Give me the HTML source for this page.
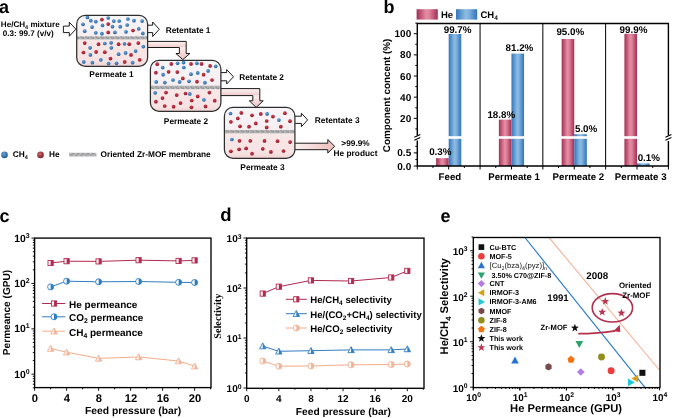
<!DOCTYPE html>
<html><head><meta charset="utf-8"><style>
html,body{margin:0;padding:0;background:#fff;}
body{width:685px;height:418px;overflow:hidden;}
svg{display:block;text-rendering:geometricPrecision;will-change:transform;}
</style></head><body>
<svg width="685" height="418" viewBox="0 0 685 418">
<rect width="685" height="418" fill="#fff"/>

<defs>
<linearGradient id="gHe" x1="0" x2="1" y1="0" y2="0">
 <stop offset="0" stop-color="#a33157"/><stop offset="0.12" stop-color="#b5476b"/>
 <stop offset="0.45" stop-color="#e48da3"/><stop offset="0.6" stop-color="#dd8299"/>
 <stop offset="0.88" stop-color="#b4466a"/><stop offset="1" stop-color="#a33157"/>
</linearGradient>
<linearGradient id="gCH" x1="0" x2="1" y1="0" y2="0">
 <stop offset="0" stop-color="#3576bb"/><stop offset="0.12" stop-color="#4a88c6"/>
 <stop offset="0.45" stop-color="#8cbbe2"/><stop offset="0.6" stop-color="#82b3dd"/>
 <stop offset="0.88" stop-color="#4786c5"/><stop offset="1" stop-color="#3576bb"/>
</linearGradient>
<linearGradient id="gUp" x1="0" x2="0" y1="0" y2="1">
 <stop offset="0" stop-color="#f6f5f8"/><stop offset="1" stop-color="#f6eef0"/>
</linearGradient>
<linearGradient id="gLo" x1="0" x2="0" y1="0" y2="1">
 <stop offset="0" stop-color="#f8e8e8"/><stop offset="0.8" stop-color="#f6e2e2"/><stop offset="1" stop-color="#f0d2d3"/>
</linearGradient>
<linearGradient id="gArrH" x1="0" x2="0" y1="0" y2="1">
 <stop offset="0" stop-color="#fdf5f5"/><stop offset="1" stop-color="#f0caca"/>
</linearGradient>
<linearGradient id="gArrV" x1="0" x2="0" y1="0" y2="1">
 <stop offset="0" stop-color="#faeded"/><stop offset="1" stop-color="#efc2c2"/>
</linearGradient>
<linearGradient id="gArrF" x1="0" x2="1" y1="0" y2="0">
 <stop offset="0" stop-color="#fbf2f2"/><stop offset="1" stop-color="#eebcbc"/>
</linearGradient>
<radialGradient id="dB" cx="0.4" cy="0.35" r="0.65">
 <stop offset="0" stop-color="#6aa6dc"/><stop offset="1" stop-color="#1f5f9e"/>
</radialGradient>
<radialGradient id="dR" cx="0.4" cy="0.35" r="0.65">
 <stop offset="0" stop-color="#d8414f"/><stop offset="1" stop-color="#8e1022"/>
</radialGradient>
<radialGradient id="dBL" cx="0.4" cy="0.35" r="0.65">
 <stop offset="0" stop-color="#66a3d8"/><stop offset="1" stop-color="#24598c"/>
</radialGradient>
<radialGradient id="dRL" cx="0.4" cy="0.35" r="0.65">
 <stop offset="0" stop-color="#d26868"/><stop offset="1" stop-color="#7c2027"/>
</radialGradient>
<pattern id="mem" width="5" height="3.6" patternUnits="userSpaceOnUse">
 <rect width="5" height="3.6" fill="#bebec0"/>
 <path d="M0.4 0.9 Q1.3 0.1 1.7 1.3 T2.6 2.7" stroke="#58585a" stroke-width="0.65" fill="none"/>
 <path d="M3.0 0.7 L4.1 1.7 L3.3 2.9" stroke="#6a6a6c" stroke-width="0.6" fill="none"/>
 <path d="M0 3.2 L5 3.2" stroke="#9a9a9c" stroke-width="0.5"/>
 <path d="M4.4 0.4 L4.9 0.4 M0.8 2.4 L1.2 2.4" stroke="#f0f0f0" stroke-width="0.5"/>
</pattern>
</defs>
<text transform="translate(-1 12.8) scale(1 1.0)" font-size="18" font-weight="bold" text-anchor="start" fill="#000" font-family='"Liberation Sans", sans-serif' >a</text>
<rect x="147.5" y="41.4" width="38.69999999999999" height="6.100000000000001" fill="url(#gArrH)"/>
<path d="M179.4 47.5 L179.4 53.5 L175.9 53.5 L182.8 59.6 L189.9 53.5 L186.2 53.5 L186.2 47.5 Z" fill="url(#gArrV)"/>
<path d="M147.5 41.4 L186.2 41.4 L186.2 53.5 L189.9 53.5 L182.8 59.6 L175.9 53.5 L179.4 53.5 L179.4 47.5 L147.5 47.5" fill="none" stroke="#1a1a1a" stroke-width="1.0" stroke-linejoin="miter"/>
<rect x="220.5" y="88.6" width="39.30000000000001" height="7.0" fill="url(#gArrH)"/>
<path d="M252.8 95.6 L252.8 100.8 L249.3 100.8 L256.2 107.4 L263.2 100.8 L259.8 100.8 L259.8 95.6 Z" fill="url(#gArrV)"/>
<path d="M220.5 88.6 L259.8 88.6 L259.8 100.8 L263.2 100.8 L256.2 107.4 L249.3 100.8 L252.8 100.8 L252.8 95.6 L220.5 95.6" fill="none" stroke="#1a1a1a" stroke-width="1.0" stroke-linejoin="miter"/>
<path d="M63.4 26.1 L69.3 26.1 L69.3 22.2 L75.9 29.2 L69.3 36.2 L69.3 32.6 L63.4 32.6 Z" fill="#fff" stroke="#1a1a1a" stroke-width="1.0"/>
<path d="M147.5 25.2 L152.7 25.2 L152.7 22.0 L159.3 29.25 L152.7 36.5 L152.7 32.6 L147.5 32.6" fill="#fff" stroke="#1a1a1a" stroke-width="1.0" stroke-linejoin="miter"/>
<path d="M220.5 72.6 L226.7 72.6 L226.7 69.6 L233.5 76.8 L226.7 84.0 L226.7 80.8 L220.5 80.8" fill="#fff" stroke="#1a1a1a" stroke-width="1.0" stroke-linejoin="miter"/>
<path d="M294.7 116.2 L301.4 116.2 L301.4 113.2 L307.6 119.95 L301.4 126.7 L301.4 123.4 L294.7 123.4" fill="#fff" stroke="#1a1a1a" stroke-width="1.0" stroke-linejoin="miter"/>
<path d="M294.7 143.2 L327.8 143.2 L327.8 139.5 L334.7 146.3 L327.8 153 L327.8 149.7 L294.7 149.7" fill="url(#gArrF)" stroke="#1a1a1a" stroke-width="1.0"/>
<clipPath id="cb76"><rect x="76.7" y="15.4" width="70.89999999999999" height="50.9" rx="8.5" ry="8.5"/></clipPath>
<g clip-path="url(#cb76)">
<rect x="76.7" y="15.4" width="70.89999999999999" height="20.800000000000004" fill="url(#gUp)"/>
<rect x="76.7" y="39.5" width="70.89999999999999" height="26.799999999999997" fill="url(#gLo)"/>
<rect x="76.7" y="36.2" width="70.89999999999999" height="3.299999999999997" fill="url(#mem)"/>
<circle cx="87.4" cy="17.4" r="1.85" fill="url(#dB)"/>
<circle cx="90.8" cy="20.7" r="1.85" fill="url(#dB)"/>
<circle cx="95.8" cy="21.6" r="1.85" fill="url(#dB)"/>
<circle cx="108.2" cy="18" r="1.85" fill="url(#dB)"/>
<circle cx="113.8" cy="21.1" r="1.85" fill="url(#dB)"/>
<circle cx="119.2" cy="21" r="1.85" fill="url(#dB)"/>
<circle cx="127.9" cy="19" r="1.85" fill="url(#dB)"/>
<circle cx="134" cy="20.7" r="1.85" fill="url(#dB)"/>
<circle cx="142.1" cy="21.1" r="1.85" fill="url(#dB)"/>
<circle cx="83" cy="24.3" r="1.85" fill="url(#dB)"/>
<circle cx="92.1" cy="27.1" r="1.85" fill="url(#dB)"/>
<circle cx="102.5" cy="25.4" r="1.85" fill="url(#dB)"/>
<circle cx="112.5" cy="26.7" r="1.85" fill="url(#dB)"/>
<circle cx="120.2" cy="26.7" r="1.85" fill="url(#dB)"/>
<circle cx="127.2" cy="25" r="1.85" fill="url(#dB)"/>
<circle cx="138.7" cy="28.8" r="1.85" fill="url(#dB)"/>
<circle cx="84.7" cy="31.2" r="1.85" fill="url(#dB)"/>
<circle cx="95.8" cy="32.8" r="1.85" fill="url(#dB)"/>
<circle cx="101.9" cy="33.7" r="1.85" fill="url(#dB)"/>
<circle cx="114.9" cy="32.4" r="1.85" fill="url(#dB)"/>
<circle cx="126" cy="31.8" r="1.85" fill="url(#dB)"/>
<circle cx="142.8" cy="33.4" r="1.85" fill="url(#dB)"/>
<circle cx="101.9" cy="19.6" r="1.85" fill="url(#dR)"/>
<circle cx="108.2" cy="24.1" r="1.85" fill="url(#dR)"/>
<circle cx="108.2" cy="32.4" r="1.85" fill="url(#dR)"/>
<circle cx="133" cy="30.5" r="1.85" fill="url(#dR)"/>
<circle cx="84.7" cy="43.1" r="1.85" fill="url(#dR)"/>
<circle cx="98.5" cy="44.2" r="1.85" fill="url(#dR)"/>
<circle cx="118.6" cy="44.2" r="1.85" fill="url(#dR)"/>
<circle cx="129.2" cy="44.2" r="1.85" fill="url(#dR)"/>
<circle cx="138.3" cy="43.1" r="1.85" fill="url(#dR)"/>
<circle cx="83.4" cy="52.5" r="1.85" fill="url(#dR)"/>
<circle cx="96.1" cy="51.9" r="1.85" fill="url(#dR)"/>
<circle cx="104.8" cy="52.2" r="1.85" fill="url(#dR)"/>
<circle cx="131" cy="54.9" r="1.85" fill="url(#dR)"/>
<circle cx="110.5" cy="58.6" r="1.85" fill="url(#dR)"/>
<circle cx="124.7" cy="61.9" r="1.85" fill="url(#dR)"/>
<circle cx="139.7" cy="59.8" r="1.85" fill="url(#dR)"/>
<circle cx="104.8" cy="43.5" r="1.85" fill="url(#dB)"/>
<circle cx="111.1" cy="42.8" r="1.85" fill="url(#dB)"/>
<circle cx="124.5" cy="43.8" r="1.85" fill="url(#dB)"/>
<circle cx="90.1" cy="47.8" r="1.85" fill="url(#dB)"/>
<circle cx="111.3" cy="47.8" r="1.85" fill="url(#dB)"/>
<circle cx="143.3" cy="46.6" r="1.85" fill="url(#dB)"/>
<circle cx="90.4" cy="54.9" r="1.85" fill="url(#dB)"/>
<circle cx="118.6" cy="54.2" r="1.85" fill="url(#dB)"/>
<circle cx="125.6" cy="52.9" r="1.85" fill="url(#dB)"/>
<circle cx="135.6" cy="51.1" r="1.85" fill="url(#dB)"/>
<circle cx="83.8" cy="61.9" r="1.85" fill="url(#dB)"/>
<circle cx="92.4" cy="62.7" r="1.85" fill="url(#dB)"/>
<circle cx="100.8" cy="59.8" r="1.85" fill="url(#dB)"/>
<circle cx="108.6" cy="63.6" r="1.85" fill="url(#dB)"/>
<circle cx="116.5" cy="63.3" r="1.85" fill="url(#dB)"/>
<circle cx="132.6" cy="62.7" r="1.85" fill="url(#dB)"/>
</g>
<rect x="76.7" y="15.4" width="70.89999999999999" height="50.9" rx="8.5" ry="8.5" fill="none" stroke="#2e2e2e" stroke-width="1.25"/>
<clipPath id="cb150"><rect x="150.4" y="60.4" width="70.5" height="50.9" rx="8.5" ry="8.5"/></clipPath>
<g clip-path="url(#cb150)">
<rect x="150.4" y="60.4" width="70.5" height="25.300000000000004" fill="url(#gUp)"/>
<rect x="150.4" y="89.2" width="70.5" height="22.099999999999994" fill="url(#gLo)"/>
<rect x="150.4" y="85.7" width="70.5" height="3.5" fill="url(#mem)"/>
<circle cx="157.2" cy="64.2" r="1.85" fill="url(#dR)"/>
<circle cx="171.3" cy="63.9" r="1.85" fill="url(#dR)"/>
<circle cx="191" cy="63.9" r="1.85" fill="url(#dR)"/>
<circle cx="201.5" cy="63.9" r="1.85" fill="url(#dR)"/>
<circle cx="210.1" cy="65.9" r="1.85" fill="url(#dR)"/>
<circle cx="155.9" cy="72.7" r="1.85" fill="url(#dR)"/>
<circle cx="168.6" cy="71.8" r="1.85" fill="url(#dR)"/>
<circle cx="177.3" cy="72.1" r="1.85" fill="url(#dR)"/>
<circle cx="203.6" cy="74.7" r="1.85" fill="url(#dR)"/>
<circle cx="182.8" cy="78.4" r="1.85" fill="url(#dR)"/>
<circle cx="197" cy="81.7" r="1.85" fill="url(#dR)"/>
<circle cx="212" cy="80" r="1.85" fill="url(#dR)"/>
<circle cx="177.6" cy="63.3" r="1.85" fill="url(#dB)"/>
<circle cx="183.5" cy="62.6" r="1.85" fill="url(#dB)"/>
<circle cx="196.9" cy="63.3" r="1.85" fill="url(#dB)"/>
<circle cx="215.7" cy="66.3" r="1.85" fill="url(#dB)"/>
<circle cx="162.7" cy="67.6" r="1.85" fill="url(#dB)"/>
<circle cx="183.8" cy="67.5" r="1.85" fill="url(#dB)"/>
<circle cx="163.1" cy="74.7" r="1.85" fill="url(#dB)"/>
<circle cx="191" cy="74.2" r="1.85" fill="url(#dB)"/>
<circle cx="197.7" cy="72.9" r="1.85" fill="url(#dB)"/>
<circle cx="208.1" cy="70.9" r="1.85" fill="url(#dB)"/>
<circle cx="156.2" cy="81.9" r="1.85" fill="url(#dB)"/>
<circle cx="164.8" cy="82.6" r="1.85" fill="url(#dB)"/>
<circle cx="173" cy="80" r="1.85" fill="url(#dB)"/>
<circle cx="179.6" cy="81.9" r="1.85" fill="url(#dB)"/>
<circle cx="189" cy="81.3" r="1.85" fill="url(#dB)"/>
<circle cx="204.9" cy="82.7" r="1.85" fill="url(#dB)"/>
<circle cx="166" cy="92.6" r="1.85" fill="url(#dR)"/>
<circle cx="185.5" cy="93.5" r="1.85" fill="url(#dR)"/>
<circle cx="209.4" cy="92.6" r="1.85" fill="url(#dR)"/>
<circle cx="162.5" cy="98.1" r="1.85" fill="url(#dR)"/>
<circle cx="176.7" cy="95.1" r="1.85" fill="url(#dR)"/>
<circle cx="197.7" cy="96.4" r="1.85" fill="url(#dR)"/>
<circle cx="155.9" cy="101.7" r="1.85" fill="url(#dR)"/>
<circle cx="191.7" cy="100.5" r="1.85" fill="url(#dR)"/>
<circle cx="214.7" cy="100.7" r="1.85" fill="url(#dR)"/>
<circle cx="180.5" cy="103.1" r="1.85" fill="url(#dR)"/>
<circle cx="164.7" cy="106" r="1.85" fill="url(#dR)"/>
<circle cx="173.6" cy="106.7" r="1.85" fill="url(#dR)"/>
<circle cx="191.4" cy="107.3" r="1.85" fill="url(#dR)"/>
<circle cx="205.5" cy="106.4" r="1.85" fill="url(#dR)"/>
<circle cx="155.2" cy="92.8" r="1.85" fill="url(#dB)"/>
<circle cx="189.8" cy="93.9" r="1.85" fill="url(#dB)"/>
<circle cx="203.9" cy="99.8" r="1.85" fill="url(#dB)"/>
</g>
<rect x="150.4" y="60.4" width="70.5" height="50.9" rx="8.5" ry="8.5" fill="none" stroke="#2e2e2e" stroke-width="1.25"/>
<clipPath id="cb224"><rect x="224.4" y="107.4" width="70.49999999999997" height="50.900000000000006" rx="8.5" ry="8.5"/></clipPath>
<g clip-path="url(#cb224)">
<rect x="224.4" y="107.4" width="70.49999999999997" height="22.599999999999994" fill="url(#gUp)"/>
<rect x="224.4" y="133.4" width="70.49999999999997" height="24.900000000000006" fill="url(#gLo)"/>
<rect x="224.4" y="130.0" width="70.49999999999997" height="3.4000000000000057" fill="url(#mem)"/>
<circle cx="230.5" cy="113.5" r="1.85" fill="url(#dB)"/>
<circle cx="267.1" cy="113.9" r="1.85" fill="url(#dB)"/>
<circle cx="278.9" cy="120.1" r="1.85" fill="url(#dB)"/>
<circle cx="241.3" cy="112.9" r="1.85" fill="url(#dR)"/>
<circle cx="252" cy="115.3" r="1.85" fill="url(#dR)"/>
<circle cx="260.8" cy="113.9" r="1.85" fill="url(#dR)"/>
<circle cx="284.9" cy="113.2" r="1.85" fill="url(#dR)"/>
<circle cx="237.8" cy="118.4" r="1.85" fill="url(#dR)"/>
<circle cx="272.9" cy="116.6" r="1.85" fill="url(#dR)"/>
<circle cx="230.9" cy="121.8" r="1.85" fill="url(#dR)"/>
<circle cx="266.7" cy="121" r="1.85" fill="url(#dR)"/>
<circle cx="290" cy="121.2" r="1.85" fill="url(#dR)"/>
<circle cx="255.8" cy="123.4" r="1.85" fill="url(#dR)"/>
<circle cx="240" cy="126.3" r="1.85" fill="url(#dR)"/>
<circle cx="249" cy="126.7" r="1.85" fill="url(#dR)"/>
<circle cx="266.7" cy="127.4" r="1.85" fill="url(#dR)"/>
<circle cx="280.8" cy="126.7" r="1.85" fill="url(#dR)"/>
<circle cx="231.9" cy="139.5" r="1.85" fill="url(#dB)"/>
<circle cx="239.5" cy="140.8" r="1.85" fill="url(#dR)"/>
<circle cx="250.3" cy="140.8" r="1.85" fill="url(#dR)"/>
<circle cx="264.5" cy="140.9" r="1.85" fill="url(#dR)"/>
<circle cx="277.5" cy="141.2" r="1.85" fill="url(#dR)"/>
<circle cx="290.1" cy="142.1" r="1.85" fill="url(#dR)"/>
<circle cx="230.9" cy="151.3" r="1.85" fill="url(#dR)"/>
<circle cx="239.1" cy="149.3" r="1.85" fill="url(#dR)"/>
<circle cx="246.1" cy="148.4" r="1.85" fill="url(#dR)"/>
<circle cx="262.8" cy="148.8" r="1.85" fill="url(#dR)"/>
<circle cx="252" cy="153.7" r="1.85" fill="url(#dR)"/>
<circle cx="270.9" cy="151.9" r="1.85" fill="url(#dR)"/>
<circle cx="283.5" cy="151" r="1.85" fill="url(#dR)"/>
</g>
<rect x="224.4" y="107.4" width="70.49999999999997" height="50.900000000000006" rx="8.5" ry="8.5" fill="none" stroke="#2e2e2e" stroke-width="1.25"/>
<text transform="translate(0.8 27.2) scale(1 1.0)" font-size="8.1" font-weight="bold" text-anchor="start" fill="#000" font-family='"Liberation Sans", sans-serif' >He/CH<tspan font-size="5.5" dy="1.8">4</tspan><tspan dy="-1.8"> mixture</tspan></text>
<text transform="translate(2.8 36.2) scale(1 1.0)" font-size="8.1" font-weight="bold" text-anchor="start" fill="#000" font-family='"Liberation Sans", sans-serif' >0.3: 99.7 (v/v)</text>
<text transform="translate(165.7 32.9) scale(1 1.0)" font-size="8.3" font-weight="bold" text-anchor="start" fill="#000" font-family='"Liberation Sans", sans-serif' >Retentate 1</text>
<text transform="translate(239.2 79.9) scale(1 1.0)" font-size="8.3" font-weight="bold" text-anchor="start" fill="#000" font-family='"Liberation Sans", sans-serif' >Retentate 2</text>
<text transform="translate(314.8 123.2) scale(1 1.0)" font-size="8.3" font-weight="bold" text-anchor="start" fill="#000" font-family='"Liberation Sans", sans-serif' >Retentate 3</text>
<text transform="translate(111.5 76.6) scale(1 1.0)" font-size="8.3" font-weight="bold" text-anchor="middle" fill="#000" font-family='"Liberation Sans", sans-serif' >Permeate 1</text>
<text transform="translate(186 123.6) scale(1 1.0)" font-size="8.3" font-weight="bold" text-anchor="middle" fill="#000" font-family='"Liberation Sans", sans-serif' >Permeate 2</text>
<text transform="translate(262.5 170.3) scale(1 1.0)" font-size="8.3" font-weight="bold" text-anchor="middle" fill="#000" font-family='"Liberation Sans", sans-serif' >Permeate 3</text>
<text transform="translate(355.5 146.2) scale(1 1.0)" font-size="8.3" font-weight="bold" text-anchor="middle" fill="#000" font-family='"Liberation Sans", sans-serif' >&gt;99.9%</text>
<text transform="translate(355.5 156.3) scale(1 1.0)" font-size="8.3" font-weight="bold" text-anchor="middle" fill="#000" font-family='"Liberation Sans", sans-serif' >He product</text>
<circle cx="4.5" cy="154.9" r="3.3" fill="url(#dBL)"/>
<text transform="translate(12.8 157.4) scale(1 1.0)" font-size="8.3" font-weight="bold" text-anchor="start" fill="#000" font-family='"Liberation Sans", sans-serif' >CH<tspan font-size="5.5" dy="1.8">4</tspan></text>
<circle cx="40.5" cy="154.9" r="3.3" fill="url(#dRL)"/>
<text transform="translate(49 157.4) scale(1 1.0)" font-size="8.3" font-weight="bold" text-anchor="start" fill="#000" font-family='"Liberation Sans", sans-serif' >He</text>
<rect x="69" y="152.8" width="27.4" height="3.6" fill="url(#mem)"/>
<text transform="translate(100.5 157.4) scale(1 1.0)" font-size="8.3" font-weight="bold" text-anchor="start" fill="#000" font-family='"Liberation Sans", sans-serif' >Oriented Zr-MOF membrane</text>
<text transform="translate(383.5 12.8) scale(1 1.0)" font-size="18" font-weight="bold" text-anchor="start" fill="#000" font-family='"Liberation Sans", sans-serif' >b</text>
<rect x="416.6" y="9.2" width="21.2" height="10.4" fill="url(#gHe)"/>
<text transform="translate(441 18.2) scale(1 1.0)" font-size="9.5" font-weight="bold" text-anchor="start" fill="#000" font-family='"Liberation Sans", sans-serif' >He</text>
<rect x="456" y="9.2" width="21.2" height="10.4" fill="url(#gCH)"/>
<text transform="translate(480.5 18.2) scale(1 1.0)" font-size="9.5" font-weight="bold" text-anchor="start" fill="#000" font-family='"Liberation Sans", sans-serif' >CH<tspan font-size="6.5" dy="2">4</tspan></text>
<rect x="436.09" y="158.14" width="12.6" height="7.86" fill="url(#gHe)"/>
<rect x="448.69" y="34.02" width="12.6" height="131.98" fill="url(#gCH)"/>
<rect x="498.86" y="119.61" width="12.6" height="46.39" fill="url(#gHe)"/>
<rect x="511.46" y="53.59" width="12.6" height="112.41" fill="url(#gCH)"/>
<rect x="561.64" y="38.99" width="12.6" height="127.01" fill="url(#gHe)"/>
<rect x="574.24" y="134.21" width="12.6" height="31.79" fill="url(#gCH)"/>
<rect x="624.41" y="33.81" width="12.6" height="132.19" fill="url(#gHe)"/>
<rect x="637.01" y="163.38" width="12.6" height="2.62" fill="url(#gCH)"/>
<rect x="418.3" y="136.2" width="249.09999999999997" height="2.6" fill="#fff"/>
<line x1="480.07" y1="23.5" x2="480.07" y2="166.0" stroke="#000" stroke-width="1"/>
<line x1="542.85" y1="23.5" x2="542.85" y2="166.0" stroke="#000" stroke-width="1"/>
<line x1="605.62" y1="23.5" x2="605.62" y2="166.0" stroke="#000" stroke-width="1"/>
<path d="M416.7 23.5 L669.0 23.5" stroke="#000" stroke-width="1.3"/>
<path d="M417.3 23.5 L417.3 135.5 M417.3 140.5 L417.3 166.0 L668.4 166.0 L668.4 141 M668.4 135.5 L668.4 23.5" stroke="#000" stroke-width="1.4" fill="none"/>
<path d="M414.3 137.2 L420.3 134.6 M414.3 140.2 L420.3 137.6" stroke="#000" stroke-width="1.1"/>
<path d="M417.3 136.6 L417.3 138.8" stroke="#fff" stroke-width="0"/>
<path d="M665.4 137.2 L671.4 134.6 M665.4 140.2 L671.4 137.6" stroke="#000" stroke-width="1.1"/>
<path d="M668.4 136.6 L668.4 138.8" stroke="#fff" stroke-width="0"/>
<line x1="415.3" y1="128.92" x2="417.3" y2="128.92" stroke="#000" stroke-width="1"/>
<line x1="413.8" y1="118.34" x2="417.3" y2="118.34" stroke="#000" stroke-width="1"/>
<text transform="translate(411.2 121.84) scale(1 1.0)" font-size="10" font-weight="bold" text-anchor="end" fill="#000" font-family='"Liberation Sans", sans-serif' >20</text>
<line x1="415.3" y1="107.76" x2="417.3" y2="107.76" stroke="#000" stroke-width="1"/>
<line x1="413.8" y1="97.18" x2="417.3" y2="97.18" stroke="#000" stroke-width="1"/>
<text transform="translate(411.2 100.68) scale(1 1.0)" font-size="10" font-weight="bold" text-anchor="end" fill="#000" font-family='"Liberation Sans", sans-serif' >40</text>
<line x1="415.3" y1="86.60" x2="417.3" y2="86.60" stroke="#000" stroke-width="1"/>
<line x1="413.8" y1="76.02" x2="417.3" y2="76.02" stroke="#000" stroke-width="1"/>
<text transform="translate(411.2 79.52) scale(1 1.0)" font-size="10" font-weight="bold" text-anchor="end" fill="#000" font-family='"Liberation Sans", sans-serif' >60</text>
<line x1="415.3" y1="65.44" x2="417.3" y2="65.44" stroke="#000" stroke-width="1"/>
<line x1="413.8" y1="54.86" x2="417.3" y2="54.86" stroke="#000" stroke-width="1"/>
<text transform="translate(411.2 58.36) scale(1 1.0)" font-size="10" font-weight="bold" text-anchor="end" fill="#000" font-family='"Liberation Sans", sans-serif' >80</text>
<line x1="415.3" y1="44.28" x2="417.3" y2="44.28" stroke="#000" stroke-width="1"/>
<line x1="413.8" y1="33.70" x2="417.3" y2="33.70" stroke="#000" stroke-width="1"/>
<text transform="translate(411.2 37.19999999999999) scale(1 1.0)" font-size="10" font-weight="bold" text-anchor="end" fill="#000" font-family='"Liberation Sans", sans-serif' >100</text>
<line x1="415.3" y1="23.12" x2="417.3" y2="23.12" stroke="#000" stroke-width="1"/>
<line x1="413.8" y1="166.00" x2="417.3" y2="166.00" stroke="#000" stroke-width="1"/>
<text transform="translate(411.2 169.5) scale(1 1.0)" font-size="10" font-weight="bold" text-anchor="end" fill="#000" font-family='"Liberation Sans", sans-serif' >0.0</text>
<line x1="415.3" y1="159.45" x2="417.3" y2="159.45" stroke="#000" stroke-width="1"/>
<line x1="413.8" y1="152.90" x2="417.3" y2="152.90" stroke="#000" stroke-width="1"/>
<text transform="translate(411.2 156.4) scale(1 1.0)" font-size="10" font-weight="bold" text-anchor="end" fill="#000" font-family='"Liberation Sans", sans-serif' >0.5</text>
<line x1="415.3" y1="146.35" x2="417.3" y2="146.35" stroke="#000" stroke-width="1"/>
<line x1="417.30" y1="166.0" x2="417.30" y2="169.5" stroke="#000" stroke-width="1"/>
<line x1="432.99" y1="166.0" x2="432.99" y2="168.0" stroke="#000" stroke-width="1"/>
<line x1="448.69" y1="166.0" x2="448.69" y2="169.5" stroke="#000" stroke-width="1"/>
<line x1="464.38" y1="166.0" x2="464.38" y2="168.0" stroke="#000" stroke-width="1"/>
<line x1="480.07" y1="166.0" x2="480.07" y2="169.5" stroke="#000" stroke-width="1"/>
<line x1="495.77" y1="166.0" x2="495.77" y2="168.0" stroke="#000" stroke-width="1"/>
<line x1="511.46" y1="166.0" x2="511.46" y2="169.5" stroke="#000" stroke-width="1"/>
<line x1="527.16" y1="166.0" x2="527.16" y2="168.0" stroke="#000" stroke-width="1"/>
<line x1="542.85" y1="166.0" x2="542.85" y2="169.5" stroke="#000" stroke-width="1"/>
<line x1="558.54" y1="166.0" x2="558.54" y2="168.0" stroke="#000" stroke-width="1"/>
<line x1="574.24" y1="166.0" x2="574.24" y2="169.5" stroke="#000" stroke-width="1"/>
<line x1="589.93" y1="166.0" x2="589.93" y2="168.0" stroke="#000" stroke-width="1"/>
<line x1="605.62" y1="166.0" x2="605.62" y2="169.5" stroke="#000" stroke-width="1"/>
<line x1="621.32" y1="166.0" x2="621.32" y2="168.0" stroke="#000" stroke-width="1"/>
<line x1="637.01" y1="166.0" x2="637.01" y2="169.5" stroke="#000" stroke-width="1"/>
<line x1="652.71" y1="166.0" x2="652.71" y2="168.0" stroke="#000" stroke-width="1"/>
<line x1="668.40" y1="166.0" x2="668.40" y2="169.5" stroke="#000" stroke-width="1"/>
<text transform="translate(449.9 180.3) scale(1 1.0)" font-size="9.7" font-weight="bold" text-anchor="middle" fill="#000" font-family='"Liberation Sans", sans-serif' >Feed</text>
<text transform="translate(514.1 180.3) scale(1 1.0)" font-size="9.7" font-weight="bold" text-anchor="middle" fill="#000" font-family='"Liberation Sans", sans-serif' >Permeate 1</text>
<text transform="translate(578.4 180.3) scale(1 1.0)" font-size="9.7" font-weight="bold" text-anchor="middle" fill="#000" font-family='"Liberation Sans", sans-serif' >Permeate 2</text>
<text transform="translate(640.7 180.3) scale(1 1.0)" font-size="9.7" font-weight="bold" text-anchor="middle" fill="#000" font-family='"Liberation Sans", sans-serif' >Permeate 3</text>
<text transform="translate(440.3 154.6) scale(1 1.0)" font-size="9.8" font-weight="bold" text-anchor="middle" fill="#000" font-family='"Liberation Sans", sans-serif' >0.3%</text>
<text transform="translate(457.6 33.4) scale(1 1.0)" font-size="9.8" font-weight="bold" text-anchor="middle" fill="#000" font-family='"Liberation Sans", sans-serif' >99.7%</text>
<text transform="translate(501.3 118.0) scale(1 1.0)" font-size="9.8" font-weight="bold" text-anchor="middle" fill="#000" font-family='"Liberation Sans", sans-serif' >18.8%</text>
<text transform="translate(519.4 51.3) scale(1 1.0)" font-size="9.8" font-weight="bold" text-anchor="middle" fill="#000" font-family='"Liberation Sans", sans-serif' >81.2%</text>
<text transform="translate(570.3 35.3) scale(1 1.0)" font-size="9.8" font-weight="bold" text-anchor="middle" fill="#000" font-family='"Liberation Sans", sans-serif' >95.0%</text>
<text transform="translate(586.1 131.8) scale(1 1.0)" font-size="9.8" font-weight="bold" text-anchor="middle" fill="#000" font-family='"Liberation Sans", sans-serif' >5.0%</text>
<text transform="translate(633.5 32.8) scale(1 1.0)" font-size="9.8" font-weight="bold" text-anchor="middle" fill="#000" font-family='"Liberation Sans", sans-serif' >99.9%</text>
<text transform="translate(648.8 160.7) scale(1 1.0)" font-size="9.8" font-weight="bold" text-anchor="middle" fill="#000" font-family='"Liberation Sans", sans-serif' >0.1%</text>
<text transform="translate(389.6 95.4) rotate(-90) scale(1 1.0)" font-size="9.9" font-weight="bold" text-anchor="middle" fill="#000" font-family='"Liberation Sans", sans-serif'>Component concent (%)</text>
<text transform="translate(-0.6 222.4) scale(1 1.0)" font-size="18" font-weight="bold" text-anchor="start" fill="#000" font-family='"Liberation Sans", sans-serif' >c</text>
<line x1="32.80" y1="387.86" x2="34.60" y2="387.86" stroke="#000" stroke-width="0.9"/>
<line x1="32.80" y1="384.27" x2="34.60" y2="384.27" stroke="#000" stroke-width="0.9"/>
<line x1="32.80" y1="381.23" x2="34.60" y2="381.23" stroke="#000" stroke-width="0.9"/>
<line x1="32.80" y1="378.60" x2="34.60" y2="378.60" stroke="#000" stroke-width="0.9"/>
<line x1="32.80" y1="376.28" x2="34.60" y2="376.28" stroke="#000" stroke-width="0.9"/>
<line x1="31.40" y1="374.20" x2="34.60" y2="374.20" stroke="#000" stroke-width="0.9"/>
<line x1="32.80" y1="360.54" x2="34.60" y2="360.54" stroke="#000" stroke-width="0.9"/>
<line x1="32.80" y1="352.55" x2="34.60" y2="352.55" stroke="#000" stroke-width="0.9"/>
<line x1="32.80" y1="346.88" x2="34.60" y2="346.88" stroke="#000" stroke-width="0.9"/>
<line x1="32.80" y1="342.49" x2="34.60" y2="342.49" stroke="#000" stroke-width="0.9"/>
<line x1="32.80" y1="338.90" x2="34.60" y2="338.90" stroke="#000" stroke-width="0.9"/>
<line x1="32.80" y1="335.86" x2="34.60" y2="335.86" stroke="#000" stroke-width="0.9"/>
<line x1="32.80" y1="333.23" x2="34.60" y2="333.23" stroke="#000" stroke-width="0.9"/>
<line x1="32.80" y1="330.91" x2="34.60" y2="330.91" stroke="#000" stroke-width="0.9"/>
<text x="29.6" y="377.70" font-size="10.4" font-weight="bold" text-anchor="end" font-family='"Liberation Sans", sans-serif'>10<tspan font-size="7.0" dy="-3.95">0</tspan></text>
<line x1="31.40" y1="328.83" x2="34.60" y2="328.83" stroke="#000" stroke-width="0.9"/>
<line x1="32.80" y1="315.17" x2="34.60" y2="315.17" stroke="#000" stroke-width="0.9"/>
<line x1="32.80" y1="307.18" x2="34.60" y2="307.18" stroke="#000" stroke-width="0.9"/>
<line x1="32.80" y1="301.51" x2="34.60" y2="301.51" stroke="#000" stroke-width="0.9"/>
<line x1="32.80" y1="297.12" x2="34.60" y2="297.12" stroke="#000" stroke-width="0.9"/>
<line x1="32.80" y1="293.53" x2="34.60" y2="293.53" stroke="#000" stroke-width="0.9"/>
<line x1="32.80" y1="290.49" x2="34.60" y2="290.49" stroke="#000" stroke-width="0.9"/>
<line x1="32.80" y1="287.86" x2="34.60" y2="287.86" stroke="#000" stroke-width="0.9"/>
<line x1="32.80" y1="285.54" x2="34.60" y2="285.54" stroke="#000" stroke-width="0.9"/>
<text x="29.6" y="332.33" font-size="10.4" font-weight="bold" text-anchor="end" font-family='"Liberation Sans", sans-serif'>10<tspan font-size="7.0" dy="-3.95">1</tspan></text>
<line x1="31.40" y1="283.46" x2="34.60" y2="283.46" stroke="#000" stroke-width="0.9"/>
<line x1="32.80" y1="269.80" x2="34.60" y2="269.80" stroke="#000" stroke-width="0.9"/>
<line x1="32.80" y1="261.81" x2="34.60" y2="261.81" stroke="#000" stroke-width="0.9"/>
<line x1="32.80" y1="256.14" x2="34.60" y2="256.14" stroke="#000" stroke-width="0.9"/>
<line x1="32.80" y1="251.75" x2="34.60" y2="251.75" stroke="#000" stroke-width="0.9"/>
<line x1="32.80" y1="248.16" x2="34.60" y2="248.16" stroke="#000" stroke-width="0.9"/>
<line x1="32.80" y1="245.12" x2="34.60" y2="245.12" stroke="#000" stroke-width="0.9"/>
<line x1="32.80" y1="242.49" x2="34.60" y2="242.49" stroke="#000" stroke-width="0.9"/>
<line x1="32.80" y1="240.17" x2="34.60" y2="240.17" stroke="#000" stroke-width="0.9"/>
<text x="29.6" y="286.96" font-size="10.4" font-weight="bold" text-anchor="end" font-family='"Liberation Sans", sans-serif'>10<tspan font-size="7.0" dy="-3.95">2</tspan></text>
<line x1="31.40" y1="238.09" x2="34.60" y2="238.09" stroke="#000" stroke-width="0.9"/>
<text x="29.6" y="241.59" font-size="10.4" font-weight="bold" text-anchor="end" font-family='"Liberation Sans", sans-serif'>10<tspan font-size="7.0" dy="-3.95">3</tspan></text>
<line x1="34.60" y1="387.6" x2="34.60" y2="390.8" stroke="#000" stroke-width="0.9"/>
<text transform="translate(34.9 401.8) scale(1 1.0)" font-size="11.2" font-weight="bold" text-anchor="middle" fill="#000" font-family='"Liberation Sans", sans-serif' >0</text>
<line x1="50.60" y1="387.6" x2="50.60" y2="389.40000000000003" stroke="#000" stroke-width="0.9"/>
<line x1="66.60" y1="387.6" x2="66.60" y2="390.8" stroke="#000" stroke-width="0.9"/>
<text transform="translate(66.89999999999999 401.8) scale(1 1.0)" font-size="11.2" font-weight="bold" text-anchor="middle" fill="#000" font-family='"Liberation Sans", sans-serif' >4</text>
<line x1="82.60" y1="387.6" x2="82.60" y2="389.40000000000003" stroke="#000" stroke-width="0.9"/>
<line x1="98.60" y1="387.6" x2="98.60" y2="390.8" stroke="#000" stroke-width="0.9"/>
<text transform="translate(98.89999999999999 401.8) scale(1 1.0)" font-size="11.2" font-weight="bold" text-anchor="middle" fill="#000" font-family='"Liberation Sans", sans-serif' >8</text>
<line x1="114.60" y1="387.6" x2="114.60" y2="389.40000000000003" stroke="#000" stroke-width="0.9"/>
<line x1="130.60" y1="387.6" x2="130.60" y2="390.8" stroke="#000" stroke-width="0.9"/>
<text transform="translate(130.9 401.8) scale(1 1.0)" font-size="11.2" font-weight="bold" text-anchor="middle" fill="#000" font-family='"Liberation Sans", sans-serif' >12</text>
<line x1="146.60" y1="387.6" x2="146.60" y2="389.40000000000003" stroke="#000" stroke-width="0.9"/>
<line x1="162.60" y1="387.6" x2="162.60" y2="390.8" stroke="#000" stroke-width="0.9"/>
<text transform="translate(162.9 401.8) scale(1 1.0)" font-size="11.2" font-weight="bold" text-anchor="middle" fill="#000" font-family='"Liberation Sans", sans-serif' >16</text>
<line x1="178.60" y1="387.6" x2="178.60" y2="389.40000000000003" stroke="#000" stroke-width="0.9"/>
<line x1="194.60" y1="387.6" x2="194.60" y2="390.8" stroke="#000" stroke-width="0.9"/>
<text transform="translate(194.9 401.8) scale(1 1.0)" font-size="11.2" font-weight="bold" text-anchor="middle" fill="#000" font-family='"Liberation Sans", sans-serif' >20</text>
<line x1="210.60" y1="387.6" x2="210.60" y2="389.40000000000003" stroke="#000" stroke-width="0.9"/>
<text transform="translate(133.1 414.3) scale(1 1.0)" font-size="10.3" font-weight="bold" text-anchor="middle" fill="#000" font-family='"Liberation Sans", sans-serif' >Feed pressure (bar)</text>
<text transform="translate(10.3 312.5) rotate(-90) scale(1 1.0)" font-size="10.1" font-weight="bold" text-anchor="middle" fill="#000" font-family='"Liberation Sans", sans-serif'>Permeance (GPU)</text>
<path d="M50.60 348.50 L66.60 352.20 L98.60 358.40 L138.60 357.00 L178.60 361.00 L194.60 366.20" stroke="#f4ad8a" stroke-width="1.0" fill="none"/>
<path d="M50.60 345.30 L53.80 351.22 L47.40 351.22 Z" fill="#fff" stroke="#f4ad8a" stroke-width="0.9" stroke-linejoin="miter"/>
<path d="M50.60 345.30 L53.80 351.22 L50.60 351.22 Z" fill="#f0b59c"/>
<path d="M66.60 349.00 L69.80 354.92 L63.40 354.92 Z" fill="#fff" stroke="#f4ad8a" stroke-width="0.9" stroke-linejoin="miter"/>
<path d="M66.60 349.00 L69.80 354.92 L66.60 354.92 Z" fill="#f0b59c"/>
<path d="M98.60 355.20 L101.80 361.12 L95.40 361.12 Z" fill="#fff" stroke="#f4ad8a" stroke-width="0.9" stroke-linejoin="miter"/>
<path d="M98.60 355.20 L101.80 361.12 L98.60 361.12 Z" fill="#f0b59c"/>
<path d="M138.60 353.80 L141.80 359.72 L135.40 359.72 Z" fill="#fff" stroke="#f4ad8a" stroke-width="0.9" stroke-linejoin="miter"/>
<path d="M138.60 353.80 L141.80 359.72 L138.60 359.72 Z" fill="#f0b59c"/>
<path d="M178.60 357.80 L181.80 363.72 L175.40 363.72 Z" fill="#fff" stroke="#f4ad8a" stroke-width="0.9" stroke-linejoin="miter"/>
<path d="M178.60 357.80 L181.80 363.72 L178.60 363.72 Z" fill="#f0b59c"/>
<path d="M194.60 363.00 L197.80 368.92 L191.40 368.92 Z" fill="#fff" stroke="#f4ad8a" stroke-width="0.9" stroke-linejoin="miter"/>
<path d="M194.60 363.00 L197.80 368.92 L194.60 368.92 Z" fill="#f0b59c"/>
<path d="M50.60 286.90 L66.60 281.20 L98.60 281.80 L138.60 281.50 L178.60 282.30 L194.60 282.50" stroke="#2f7dc1" stroke-width="1.0" fill="none"/>
<circle cx="50.60" cy="286.90" r="3.00" fill="#fff" stroke="#2f7dc1" stroke-width="0.9"/>
<path d="M50.60 283.90 A3.00 3.00 0 0 1 50.60 289.90 Z" fill="#2f7dc1"/>
<circle cx="66.60" cy="281.20" r="3.00" fill="#fff" stroke="#2f7dc1" stroke-width="0.9"/>
<path d="M66.60 278.20 A3.00 3.00 0 0 1 66.60 284.20 Z" fill="#2f7dc1"/>
<circle cx="98.60" cy="281.80" r="3.00" fill="#fff" stroke="#2f7dc1" stroke-width="0.9"/>
<path d="M98.60 278.80 A3.00 3.00 0 0 1 98.60 284.80 Z" fill="#2f7dc1"/>
<circle cx="138.60" cy="281.50" r="3.00" fill="#fff" stroke="#2f7dc1" stroke-width="0.9"/>
<path d="M138.60 278.50 A3.00 3.00 0 0 1 138.60 284.50 Z" fill="#2f7dc1"/>
<circle cx="178.60" cy="282.30" r="3.00" fill="#fff" stroke="#2f7dc1" stroke-width="0.9"/>
<path d="M178.60 279.30 A3.00 3.00 0 0 1 178.60 285.30 Z" fill="#2f7dc1"/>
<circle cx="194.60" cy="282.50" r="3.00" fill="#fff" stroke="#2f7dc1" stroke-width="0.9"/>
<path d="M194.60 279.50 A3.00 3.00 0 0 1 194.60 285.50 Z" fill="#2f7dc1"/>
<path d="M50.60 263.00 L66.60 261.20 L98.60 261.40 L138.60 260.20 L178.60 260.90 L194.60 260.40" stroke="#b22a50" stroke-width="1.0" fill="none"/>
<rect x="48.00" y="260.40" width="5.20" height="5.20" fill="#fff" stroke="#b22a50" stroke-width="0.9"/>
<rect x="50.60" y="260.40" width="2.60" height="5.20" fill="#b22a50"/>
<rect x="64.00" y="258.60" width="5.20" height="5.20" fill="#fff" stroke="#b22a50" stroke-width="0.9"/>
<rect x="66.60" y="258.60" width="2.60" height="5.20" fill="#b22a50"/>
<rect x="96.00" y="258.80" width="5.20" height="5.20" fill="#fff" stroke="#b22a50" stroke-width="0.9"/>
<rect x="98.60" y="258.80" width="2.60" height="5.20" fill="#b22a50"/>
<rect x="136.00" y="257.60" width="5.20" height="5.20" fill="#fff" stroke="#b22a50" stroke-width="0.9"/>
<rect x="138.60" y="257.60" width="2.60" height="5.20" fill="#b22a50"/>
<rect x="176.00" y="258.30" width="5.20" height="5.20" fill="#fff" stroke="#b22a50" stroke-width="0.9"/>
<rect x="178.60" y="258.30" width="2.60" height="5.20" fill="#b22a50"/>
<rect x="192.00" y="257.80" width="5.20" height="5.20" fill="#fff" stroke="#b22a50" stroke-width="0.9"/>
<rect x="194.60" y="257.80" width="2.60" height="5.20" fill="#b22a50"/>
<line x1="42.1" y1="303.5" x2="65.3" y2="303.5" stroke="#b22a50" stroke-width="1"/>
<rect x="51.40" y="300.90" width="5.20" height="5.20" fill="#fff" stroke="#b22a50" stroke-width="0.9"/>
<rect x="54.00" y="300.90" width="2.60" height="5.20" fill="#b22a50"/>
<text transform="translate(69 307.8) scale(1 1.0)" font-size="10" font-weight="bold" text-anchor="start" fill="#000" font-family='"Liberation Sans", sans-serif' >He permeance</text>
<line x1="42.1" y1="316.8" x2="65.3" y2="316.8" stroke="#2f7dc1" stroke-width="1"/>
<circle cx="54.00" cy="316.80" r="3.00" fill="#fff" stroke="#2f7dc1" stroke-width="0.9"/>
<path d="M54.00 313.80 A3.00 3.00 0 0 1 54.00 319.80 Z" fill="#2f7dc1"/>
<text transform="translate(69 321.1) scale(1 1.0)" font-size="10" font-weight="bold" text-anchor="start" fill="#000" font-family='"Liberation Sans", sans-serif' >CO<tspan font-size="6.8" dy="2.2">2</tspan><tspan dy="-2.2"> permeance</tspan></text>
<line x1="42.1" y1="331.2" x2="65.3" y2="331.2" stroke="#f4ad8a" stroke-width="1"/>
<path d="M54.00 328.00 L57.20 333.92 L50.80 333.92 Z" fill="#fff" stroke="#f4ad8a" stroke-width="0.9" stroke-linejoin="miter"/>
<path d="M54.00 328.00 L57.20 333.92 L54.00 333.92 Z" fill="#f0b59c"/>
<text transform="translate(69 335.5) scale(1 1.0)" font-size="10" font-weight="bold" text-anchor="start" fill="#000" font-family='"Liberation Sans", sans-serif' >CH<tspan font-size="6.8" dy="2.2">4</tspan><tspan dy="-2.2"> permeance</tspan></text>
<rect x="34.6" y="238.1" width="176.4" height="149.50000000000003" fill="none" stroke="#000" stroke-width="1.35"/>
<text transform="translate(220.3 220.7) scale(1 1.0)" font-size="18.5" font-weight="bold" text-anchor="start" fill="#000" font-family='"Liberation Sans", sans-serif' >d</text>
<line x1="243.50" y1="388.00" x2="246.70" y2="388.00" stroke="#000" stroke-width="0.9"/>
<line x1="244.90" y1="372.95" x2="246.70" y2="372.95" stroke="#000" stroke-width="0.9"/>
<line x1="244.90" y1="364.14" x2="246.70" y2="364.14" stroke="#000" stroke-width="0.9"/>
<line x1="244.90" y1="357.90" x2="246.70" y2="357.90" stroke="#000" stroke-width="0.9"/>
<line x1="244.90" y1="353.05" x2="246.70" y2="353.05" stroke="#000" stroke-width="0.9"/>
<line x1="244.90" y1="349.09" x2="246.70" y2="349.09" stroke="#000" stroke-width="0.9"/>
<line x1="244.90" y1="345.75" x2="246.70" y2="345.75" stroke="#000" stroke-width="0.9"/>
<line x1="244.90" y1="342.85" x2="246.70" y2="342.85" stroke="#000" stroke-width="0.9"/>
<line x1="244.90" y1="340.29" x2="246.70" y2="340.29" stroke="#000" stroke-width="0.9"/>
<text x="241.5" y="392.30" font-size="10" font-weight="bold" text-anchor="end" font-family='"Liberation Sans", sans-serif'>10<tspan font-size="6.8" dy="-3.80">0</tspan></text>
<line x1="243.50" y1="338.00" x2="246.70" y2="338.00" stroke="#000" stroke-width="0.9"/>
<line x1="244.90" y1="322.95" x2="246.70" y2="322.95" stroke="#000" stroke-width="0.9"/>
<line x1="244.90" y1="314.14" x2="246.70" y2="314.14" stroke="#000" stroke-width="0.9"/>
<line x1="244.90" y1="307.90" x2="246.70" y2="307.90" stroke="#000" stroke-width="0.9"/>
<line x1="244.90" y1="303.05" x2="246.70" y2="303.05" stroke="#000" stroke-width="0.9"/>
<line x1="244.90" y1="299.09" x2="246.70" y2="299.09" stroke="#000" stroke-width="0.9"/>
<line x1="244.90" y1="295.75" x2="246.70" y2="295.75" stroke="#000" stroke-width="0.9"/>
<line x1="244.90" y1="292.85" x2="246.70" y2="292.85" stroke="#000" stroke-width="0.9"/>
<line x1="244.90" y1="290.29" x2="246.70" y2="290.29" stroke="#000" stroke-width="0.9"/>
<text x="241.5" y="342.30" font-size="10" font-weight="bold" text-anchor="end" font-family='"Liberation Sans", sans-serif'>10<tspan font-size="6.8" dy="-3.80">1</tspan></text>
<line x1="243.50" y1="288.00" x2="246.70" y2="288.00" stroke="#000" stroke-width="0.9"/>
<line x1="244.90" y1="272.95" x2="246.70" y2="272.95" stroke="#000" stroke-width="0.9"/>
<line x1="244.90" y1="264.14" x2="246.70" y2="264.14" stroke="#000" stroke-width="0.9"/>
<line x1="244.90" y1="257.90" x2="246.70" y2="257.90" stroke="#000" stroke-width="0.9"/>
<line x1="244.90" y1="253.05" x2="246.70" y2="253.05" stroke="#000" stroke-width="0.9"/>
<line x1="244.90" y1="249.09" x2="246.70" y2="249.09" stroke="#000" stroke-width="0.9"/>
<line x1="244.90" y1="245.75" x2="246.70" y2="245.75" stroke="#000" stroke-width="0.9"/>
<line x1="244.90" y1="242.85" x2="246.70" y2="242.85" stroke="#000" stroke-width="0.9"/>
<line x1="244.90" y1="240.29" x2="246.70" y2="240.29" stroke="#000" stroke-width="0.9"/>
<text x="241.5" y="292.30" font-size="10" font-weight="bold" text-anchor="end" font-family='"Liberation Sans", sans-serif'>10<tspan font-size="6.8" dy="-3.80">2</tspan></text>
<line x1="243.50" y1="238.00" x2="246.70" y2="238.00" stroke="#000" stroke-width="0.9"/>
<text x="241.5" y="242.30" font-size="10" font-weight="bold" text-anchor="end" font-family='"Liberation Sans", sans-serif'>10<tspan font-size="6.8" dy="-3.80">3</tspan></text>
<line x1="246.70" y1="388.0" x2="246.70" y2="391.2" stroke="#000" stroke-width="0.9"/>
<text transform="translate(246.7 401.5) scale(1 1.0)" font-size="10" font-weight="bold" text-anchor="middle" fill="#000" font-family='"Liberation Sans", sans-serif' >0</text>
<line x1="262.76" y1="388.0" x2="262.76" y2="389.8" stroke="#000" stroke-width="0.9"/>
<line x1="278.82" y1="388.0" x2="278.82" y2="391.2" stroke="#000" stroke-width="0.9"/>
<text transform="translate(278.82 401.5) scale(1 1.0)" font-size="10" font-weight="bold" text-anchor="middle" fill="#000" font-family='"Liberation Sans", sans-serif' >4</text>
<line x1="294.88" y1="388.0" x2="294.88" y2="389.8" stroke="#000" stroke-width="0.9"/>
<line x1="310.94" y1="388.0" x2="310.94" y2="391.2" stroke="#000" stroke-width="0.9"/>
<text transform="translate(310.94 401.5) scale(1 1.0)" font-size="10" font-weight="bold" text-anchor="middle" fill="#000" font-family='"Liberation Sans", sans-serif' >8</text>
<line x1="327.00" y1="388.0" x2="327.00" y2="389.8" stroke="#000" stroke-width="0.9"/>
<line x1="343.06" y1="388.0" x2="343.06" y2="391.2" stroke="#000" stroke-width="0.9"/>
<text transform="translate(343.05999999999995 401.5) scale(1 1.0)" font-size="10" font-weight="bold" text-anchor="middle" fill="#000" font-family='"Liberation Sans", sans-serif' >12</text>
<line x1="359.12" y1="388.0" x2="359.12" y2="389.8" stroke="#000" stroke-width="0.9"/>
<line x1="375.18" y1="388.0" x2="375.18" y2="391.2" stroke="#000" stroke-width="0.9"/>
<text transform="translate(375.17999999999995 401.5) scale(1 1.0)" font-size="10" font-weight="bold" text-anchor="middle" fill="#000" font-family='"Liberation Sans", sans-serif' >16</text>
<line x1="391.24" y1="388.0" x2="391.24" y2="389.8" stroke="#000" stroke-width="0.9"/>
<line x1="407.30" y1="388.0" x2="407.30" y2="391.2" stroke="#000" stroke-width="0.9"/>
<text transform="translate(407.29999999999995 401.5) scale(1 1.0)" font-size="10" font-weight="bold" text-anchor="middle" fill="#000" font-family='"Liberation Sans", sans-serif' >20</text>
<line x1="423.36" y1="388.0" x2="423.36" y2="389.8" stroke="#000" stroke-width="0.9"/>
<text transform="translate(343.4 415.4) scale(1 1.0)" font-size="10.2" font-weight="bold" text-anchor="middle" fill="#000" font-family='"Liberation Sans", sans-serif' >Feed pressure (bar)</text>
<text transform="translate(220.6 316.2) rotate(-90) scale(1 1.0)" font-size="10.3" font-weight="bold" text-anchor="middle" fill="#000" font-family='"Liberation Serif", serif'>Selectivity</text>
<path d="M262.76 361.00 L278.82 366.20 L310.94 366.00 L351.09 364.80 L391.24 364.50 L407.30 364.00" stroke="#f4ad8a" stroke-width="1.0" fill="none"/>
<circle cx="262.76" cy="361.00" r="3.00" fill="#fff" stroke="#f4ad8a" stroke-width="0.9"/>
<path d="M262.76 358.00 A3.00 3.00 0 0 1 262.76 364.00 Z" fill="#f0b59c"/>
<circle cx="278.82" cy="366.20" r="3.00" fill="#fff" stroke="#f4ad8a" stroke-width="0.9"/>
<path d="M278.82 363.20 A3.00 3.00 0 0 1 278.82 369.20 Z" fill="#f0b59c"/>
<circle cx="310.94" cy="366.00" r="3.00" fill="#fff" stroke="#f4ad8a" stroke-width="0.9"/>
<path d="M310.94 363.00 A3.00 3.00 0 0 1 310.94 369.00 Z" fill="#f0b59c"/>
<circle cx="351.09" cy="364.80" r="3.00" fill="#fff" stroke="#f4ad8a" stroke-width="0.9"/>
<path d="M351.09 361.80 A3.00 3.00 0 0 1 351.09 367.80 Z" fill="#f0b59c"/>
<circle cx="391.24" cy="364.50" r="3.00" fill="#fff" stroke="#f4ad8a" stroke-width="0.9"/>
<path d="M391.24 361.50 A3.00 3.00 0 0 1 391.24 367.50 Z" fill="#f0b59c"/>
<circle cx="407.30" cy="364.00" r="3.00" fill="#fff" stroke="#f4ad8a" stroke-width="0.9"/>
<path d="M407.30 361.00 A3.00 3.00 0 0 1 407.30 367.00 Z" fill="#f0b59c"/>
<path d="M262.76 346.10 L278.82 351.30 L310.94 350.70 L351.09 349.90 L391.24 349.90 L407.30 349.00" stroke="#2f7dc1" stroke-width="1.0" fill="none"/>
<path d="M262.76 342.90 L265.96 348.82 L259.56 348.82 Z" fill="#fff" stroke="#2f7dc1" stroke-width="0.9" stroke-linejoin="miter"/>
<path d="M262.76 342.90 L265.96 348.82 L262.76 348.82 Z" fill="#2f7dc1"/>
<path d="M278.82 348.10 L282.02 354.02 L275.62 354.02 Z" fill="#fff" stroke="#2f7dc1" stroke-width="0.9" stroke-linejoin="miter"/>
<path d="M278.82 348.10 L282.02 354.02 L278.82 354.02 Z" fill="#2f7dc1"/>
<path d="M310.94 347.50 L314.14 353.42 L307.74 353.42 Z" fill="#fff" stroke="#2f7dc1" stroke-width="0.9" stroke-linejoin="miter"/>
<path d="M310.94 347.50 L314.14 353.42 L310.94 353.42 Z" fill="#2f7dc1"/>
<path d="M351.09 346.70 L354.29 352.62 L347.89 352.62 Z" fill="#fff" stroke="#2f7dc1" stroke-width="0.9" stroke-linejoin="miter"/>
<path d="M351.09 346.70 L354.29 352.62 L351.09 352.62 Z" fill="#2f7dc1"/>
<path d="M391.24 346.70 L394.44 352.62 L388.04 352.62 Z" fill="#fff" stroke="#2f7dc1" stroke-width="0.9" stroke-linejoin="miter"/>
<path d="M391.24 346.70 L394.44 352.62 L391.24 352.62 Z" fill="#2f7dc1"/>
<path d="M407.30 345.80 L410.50 351.72 L404.10 351.72 Z" fill="#fff" stroke="#2f7dc1" stroke-width="0.9" stroke-linejoin="miter"/>
<path d="M407.30 345.80 L410.50 351.72 L407.30 351.72 Z" fill="#2f7dc1"/>
<path d="M262.76 293.60 L278.82 286.70 L310.94 280.40 L351.09 281.00 L391.24 277.50 L407.30 270.90" stroke="#b22a50" stroke-width="1.0" fill="none"/>
<rect x="260.16" y="291.00" width="5.20" height="5.20" fill="#fff" stroke="#b22a50" stroke-width="0.9"/>
<rect x="262.76" y="291.00" width="2.60" height="5.20" fill="#b22a50"/>
<rect x="276.22" y="284.10" width="5.20" height="5.20" fill="#fff" stroke="#b22a50" stroke-width="0.9"/>
<rect x="278.82" y="284.10" width="2.60" height="5.20" fill="#b22a50"/>
<rect x="308.34" y="277.80" width="5.20" height="5.20" fill="#fff" stroke="#b22a50" stroke-width="0.9"/>
<rect x="310.94" y="277.80" width="2.60" height="5.20" fill="#b22a50"/>
<rect x="348.49" y="278.40" width="5.20" height="5.20" fill="#fff" stroke="#b22a50" stroke-width="0.9"/>
<rect x="351.09" y="278.40" width="2.60" height="5.20" fill="#b22a50"/>
<rect x="388.64" y="274.90" width="5.20" height="5.20" fill="#fff" stroke="#b22a50" stroke-width="0.9"/>
<rect x="391.24" y="274.90" width="2.60" height="5.20" fill="#b22a50"/>
<rect x="404.70" y="268.30" width="5.20" height="5.20" fill="#fff" stroke="#b22a50" stroke-width="0.9"/>
<rect x="407.30" y="268.30" width="2.60" height="5.20" fill="#b22a50"/>
<line x1="285.9" y1="299.3" x2="306.8" y2="299.3" stroke="#b22a50" stroke-width="1"/>
<rect x="293.70" y="296.70" width="5.20" height="5.20" fill="#fff" stroke="#b22a50" stroke-width="0.9"/>
<rect x="296.30" y="296.70" width="2.60" height="5.20" fill="#b22a50"/>
<text transform="translate(310.3 303.2) scale(1 1.0)" font-size="9.6" font-weight="bold" text-anchor="start" fill="#000" font-family='"Liberation Sans", sans-serif' >He/CH<tspan font-size="6.5" dy="2.2">4</tspan><tspan dy="-2.2"> selectivity</tspan></text>
<line x1="285.9" y1="313.7" x2="306.8" y2="313.7" stroke="#2f7dc1" stroke-width="1"/>
<path d="M296.30 310.50 L299.50 316.42 L293.10 316.42 Z" fill="#fff" stroke="#2f7dc1" stroke-width="0.9" stroke-linejoin="miter"/>
<path d="M296.30 310.50 L299.50 316.42 L296.30 316.42 Z" fill="#2f7dc1"/>
<text transform="translate(310.3 317.59999999999997) scale(1 1.0)" font-size="9.6" font-weight="bold" text-anchor="start" fill="#000" font-family='"Liberation Sans", sans-serif' >He/(CO<tspan font-size="6.5" dy="2.2">2</tspan><tspan dy="-2.2">+CH</tspan><tspan font-size="6.5" dy="2.2">4</tspan><tspan dy="-2.2">) selectivity</tspan></text>
<line x1="285.9" y1="328.0" x2="306.8" y2="328.0" stroke="#f4ad8a" stroke-width="1"/>
<circle cx="296.30" cy="328.00" r="3.00" fill="#fff" stroke="#f4ad8a" stroke-width="0.9"/>
<path d="M296.30 325.00 A3.00 3.00 0 0 1 296.30 331.00 Z" fill="#f0b59c"/>
<text transform="translate(310.3 331.9) scale(1 1.0)" font-size="9.6" font-weight="bold" text-anchor="start" fill="#000" font-family='"Liberation Sans", sans-serif' >He/CO<tspan font-size="6.5" dy="2.2">2</tspan><tspan dy="-2.2"> selectivity</tspan></text>
<rect x="246.7" y="238.1" width="177.3" height="150.20000000000002" fill="none" stroke="#000" stroke-width="1.35"/>
<text transform="translate(440.6 222.3) scale(1 1.0)" font-size="18" font-weight="bold" text-anchor="start" fill="#000" font-family='"Liberation Sans", sans-serif' >e</text>
<clipPath id="ecl"><rect x="473.3" y="237.5" width="186.2" height="149.7"/></clipPath>
<g clip-path="url(#ecl)">
<line x1="524.9" y1="237.5" x2="644.7" y2="387.2" stroke="#2f7fc8" stroke-width="1.2"/>
<line x1="549.1" y1="237.7" x2="659.4" y2="370" stroke="#f4ad90" stroke-width="1.05"/>
</g>
<line x1="470.10" y1="387.20" x2="473.30" y2="387.20" stroke="#000" stroke-width="0.9"/>
<line x1="471.50" y1="373.50" x2="473.30" y2="373.50" stroke="#000" stroke-width="0.9"/>
<line x1="471.50" y1="365.49" x2="473.30" y2="365.49" stroke="#000" stroke-width="0.9"/>
<line x1="471.50" y1="359.81" x2="473.30" y2="359.81" stroke="#000" stroke-width="0.9"/>
<line x1="471.50" y1="355.40" x2="473.30" y2="355.40" stroke="#000" stroke-width="0.9"/>
<line x1="471.50" y1="351.79" x2="473.30" y2="351.79" stroke="#000" stroke-width="0.9"/>
<line x1="471.50" y1="348.75" x2="473.30" y2="348.75" stroke="#000" stroke-width="0.9"/>
<line x1="471.50" y1="346.11" x2="473.30" y2="346.11" stroke="#000" stroke-width="0.9"/>
<line x1="471.50" y1="343.78" x2="473.30" y2="343.78" stroke="#000" stroke-width="0.9"/>
<text x="467.6" y="391.50" font-size="10" font-weight="bold" text-anchor="end" font-family='"Liberation Sans", sans-serif'>10<tspan font-size="6.8" dy="-3.80">0</tspan></text>
<line x1="470.10" y1="341.70" x2="473.30" y2="341.70" stroke="#000" stroke-width="0.9"/>
<line x1="471.50" y1="328.00" x2="473.30" y2="328.00" stroke="#000" stroke-width="0.9"/>
<line x1="471.50" y1="319.99" x2="473.30" y2="319.99" stroke="#000" stroke-width="0.9"/>
<line x1="471.50" y1="314.31" x2="473.30" y2="314.31" stroke="#000" stroke-width="0.9"/>
<line x1="471.50" y1="309.90" x2="473.30" y2="309.90" stroke="#000" stroke-width="0.9"/>
<line x1="471.50" y1="306.29" x2="473.30" y2="306.29" stroke="#000" stroke-width="0.9"/>
<line x1="471.50" y1="303.25" x2="473.30" y2="303.25" stroke="#000" stroke-width="0.9"/>
<line x1="471.50" y1="300.61" x2="473.30" y2="300.61" stroke="#000" stroke-width="0.9"/>
<line x1="471.50" y1="298.28" x2="473.30" y2="298.28" stroke="#000" stroke-width="0.9"/>
<text x="467.6" y="346.00" font-size="10" font-weight="bold" text-anchor="end" font-family='"Liberation Sans", sans-serif'>10<tspan font-size="6.8" dy="-3.80">1</tspan></text>
<line x1="470.10" y1="296.20" x2="473.30" y2="296.20" stroke="#000" stroke-width="0.9"/>
<line x1="471.50" y1="282.50" x2="473.30" y2="282.50" stroke="#000" stroke-width="0.9"/>
<line x1="471.50" y1="274.49" x2="473.30" y2="274.49" stroke="#000" stroke-width="0.9"/>
<line x1="471.50" y1="268.81" x2="473.30" y2="268.81" stroke="#000" stroke-width="0.9"/>
<line x1="471.50" y1="264.40" x2="473.30" y2="264.40" stroke="#000" stroke-width="0.9"/>
<line x1="471.50" y1="260.79" x2="473.30" y2="260.79" stroke="#000" stroke-width="0.9"/>
<line x1="471.50" y1="257.75" x2="473.30" y2="257.75" stroke="#000" stroke-width="0.9"/>
<line x1="471.50" y1="255.11" x2="473.30" y2="255.11" stroke="#000" stroke-width="0.9"/>
<line x1="471.50" y1="252.78" x2="473.30" y2="252.78" stroke="#000" stroke-width="0.9"/>
<text x="467.6" y="300.50" font-size="10" font-weight="bold" text-anchor="end" font-family='"Liberation Sans", sans-serif'>10<tspan font-size="6.8" dy="-3.80">2</tspan></text>
<line x1="470.10" y1="250.70" x2="473.30" y2="250.70" stroke="#000" stroke-width="0.9"/>
<line x1="471.50" y1="237.00" x2="473.30" y2="237.00" stroke="#000" stroke-width="0.9"/>
<text x="467.6" y="255.00" font-size="10" font-weight="bold" text-anchor="end" font-family='"Liberation Sans", sans-serif'>10<tspan font-size="6.8" dy="-3.80">3</tspan></text>
<line x1="473.30" y1="387.2" x2="473.30" y2="390.4" stroke="#000" stroke-width="0.9"/>
<line x1="487.31" y1="387.2" x2="487.31" y2="389.0" stroke="#000" stroke-width="0.9"/>
<line x1="495.51" y1="387.2" x2="495.51" y2="389.0" stroke="#000" stroke-width="0.9"/>
<line x1="501.33" y1="387.2" x2="501.33" y2="389.0" stroke="#000" stroke-width="0.9"/>
<line x1="505.84" y1="387.2" x2="505.84" y2="389.0" stroke="#000" stroke-width="0.9"/>
<line x1="509.52" y1="387.2" x2="509.52" y2="389.0" stroke="#000" stroke-width="0.9"/>
<line x1="512.64" y1="387.2" x2="512.64" y2="389.0" stroke="#000" stroke-width="0.9"/>
<line x1="515.34" y1="387.2" x2="515.34" y2="389.0" stroke="#000" stroke-width="0.9"/>
<line x1="517.72" y1="387.2" x2="517.72" y2="389.0" stroke="#000" stroke-width="0.9"/>
<line x1="519.85" y1="387.2" x2="519.85" y2="390.4" stroke="#000" stroke-width="0.9"/>
<line x1="533.86" y1="387.2" x2="533.86" y2="389.0" stroke="#000" stroke-width="0.9"/>
<line x1="542.06" y1="387.2" x2="542.06" y2="389.0" stroke="#000" stroke-width="0.9"/>
<line x1="547.88" y1="387.2" x2="547.88" y2="389.0" stroke="#000" stroke-width="0.9"/>
<line x1="552.39" y1="387.2" x2="552.39" y2="389.0" stroke="#000" stroke-width="0.9"/>
<line x1="556.07" y1="387.2" x2="556.07" y2="389.0" stroke="#000" stroke-width="0.9"/>
<line x1="559.19" y1="387.2" x2="559.19" y2="389.0" stroke="#000" stroke-width="0.9"/>
<line x1="561.89" y1="387.2" x2="561.89" y2="389.0" stroke="#000" stroke-width="0.9"/>
<line x1="564.27" y1="387.2" x2="564.27" y2="389.0" stroke="#000" stroke-width="0.9"/>
<line x1="566.40" y1="387.2" x2="566.40" y2="390.4" stroke="#000" stroke-width="0.9"/>
<line x1="580.41" y1="387.2" x2="580.41" y2="389.0" stroke="#000" stroke-width="0.9"/>
<line x1="588.61" y1="387.2" x2="588.61" y2="389.0" stroke="#000" stroke-width="0.9"/>
<line x1="594.43" y1="387.2" x2="594.43" y2="389.0" stroke="#000" stroke-width="0.9"/>
<line x1="598.94" y1="387.2" x2="598.94" y2="389.0" stroke="#000" stroke-width="0.9"/>
<line x1="602.62" y1="387.2" x2="602.62" y2="389.0" stroke="#000" stroke-width="0.9"/>
<line x1="605.74" y1="387.2" x2="605.74" y2="389.0" stroke="#000" stroke-width="0.9"/>
<line x1="608.44" y1="387.2" x2="608.44" y2="389.0" stroke="#000" stroke-width="0.9"/>
<line x1="610.82" y1="387.2" x2="610.82" y2="389.0" stroke="#000" stroke-width="0.9"/>
<line x1="612.95" y1="387.2" x2="612.95" y2="390.4" stroke="#000" stroke-width="0.9"/>
<line x1="626.96" y1="387.2" x2="626.96" y2="389.0" stroke="#000" stroke-width="0.9"/>
<line x1="635.16" y1="387.2" x2="635.16" y2="389.0" stroke="#000" stroke-width="0.9"/>
<line x1="640.98" y1="387.2" x2="640.98" y2="389.0" stroke="#000" stroke-width="0.9"/>
<line x1="645.49" y1="387.2" x2="645.49" y2="389.0" stroke="#000" stroke-width="0.9"/>
<line x1="649.17" y1="387.2" x2="649.17" y2="389.0" stroke="#000" stroke-width="0.9"/>
<line x1="652.29" y1="387.2" x2="652.29" y2="389.0" stroke="#000" stroke-width="0.9"/>
<line x1="654.99" y1="387.2" x2="654.99" y2="389.0" stroke="#000" stroke-width="0.9"/>
<line x1="657.37" y1="387.2" x2="657.37" y2="389.0" stroke="#000" stroke-width="0.9"/>
<line x1="473.30" y1="387.2" x2="473.30" y2="390.4" stroke="#000" stroke-width="0.9"/>
<text x="473.60" y="401.2" font-size="9.9" font-weight="bold" text-anchor="middle" font-family='"Liberation Sans", sans-serif'>10<tspan font-size="6.8" dy="-3.8">0</tspan></text>
<line x1="519.85" y1="387.2" x2="519.85" y2="390.4" stroke="#000" stroke-width="0.9"/>
<text x="520.15" y="401.2" font-size="9.9" font-weight="bold" text-anchor="middle" font-family='"Liberation Sans", sans-serif'>10<tspan font-size="6.8" dy="-3.8">1</tspan></text>
<line x1="566.40" y1="387.2" x2="566.40" y2="390.4" stroke="#000" stroke-width="0.9"/>
<text x="566.70" y="401.2" font-size="9.9" font-weight="bold" text-anchor="middle" font-family='"Liberation Sans", sans-serif'>10<tspan font-size="6.8" dy="-3.8">2</tspan></text>
<line x1="612.95" y1="387.2" x2="612.95" y2="390.4" stroke="#000" stroke-width="0.9"/>
<text x="613.25" y="401.2" font-size="9.9" font-weight="bold" text-anchor="middle" font-family='"Liberation Sans", sans-serif'>10<tspan font-size="6.8" dy="-3.8">3</tspan></text>
<line x1="659.50" y1="387.2" x2="659.50" y2="390.4" stroke="#000" stroke-width="0.9"/>
<text x="659.80" y="401.2" font-size="9.9" font-weight="bold" text-anchor="middle" font-family='"Liberation Sans", sans-serif'>10<tspan font-size="6.8" dy="-3.8">4</tspan></text>
<text transform="translate(566 412.2) scale(1 1.0)" font-size="11.2" font-weight="bold" text-anchor="middle" fill="#000" font-family='"Liberation Sans", sans-serif' >He Permeance (GPU)</text>
<text transform="translate(447.8 306.3) rotate(-90) scale(1 1.0)" font-size="11.2" font-weight="bold" text-anchor="middle" fill="#000" font-family='"Liberation Sans", sans-serif'>He/CH<tspan font-size="7.6" dy="2.7">4</tspan><tspan dy="-2.7"> Selectivity</tspan></text>
<rect x="478.56" y="244.26" width="5.67" height="5.67" fill="#111111"/>
<text transform="translate(489.5 249.7) scale(1 1.0)" font-size="7.2" font-weight="bold" text-anchor="start" fill="#000" font-family='"Liberation Sans", sans-serif' >Cu-BTC</text>
<circle cx="481.40" cy="256.23" r="3.26" fill="#ee3b3b"/>
<text transform="translate(489.5 258.83000000000004) scale(1 1.0)" font-size="7.2" font-weight="bold" text-anchor="start" fill="#000" font-family='"Liberation Sans", sans-serif' >MOF-5</text>
<path d="M481.40 261.79 L484.97 268.22 L477.83 268.22 Z" fill="#2a73d6"/>
<text transform="translate(489.5 268.06) scale(1 1.0)" font-size="7.7" font-weight="normal" text-anchor="start" fill="#111" font-family='"Liberation Sans", sans-serif' >[Cu<tspan font-size="5.3" dy="1.6">2</tspan><tspan dy="-1.6">(bza)</tspan><tspan font-size="5.3" dy="1.6">4</tspan><tspan dy="-1.6">(pyz)]</tspan><tspan font-size="5.3" dy="1.6">n</tspan></text>
<path d="M481.40 278.86 L484.97 272.43 L477.83 272.43 Z" fill="#2aa56a"/>
<text transform="translate(489.5 277.89000000000004) scale(1 1.0)" font-size="7.2" font-weight="bold" text-anchor="start" fill="#000" font-family='"Liberation Sans", sans-serif' >&#160;3.50% C70@ZIF-8</text>
<path d="M481.40 280.05 L484.97 283.62 L481.40 287.19 L477.83 283.62 Z" fill="#b57ce6"/>
<text transform="translate(489.5 286.22) scale(1 1.0)" font-size="7.2" font-weight="bold" text-anchor="start" fill="#000" font-family='"Liberation Sans", sans-serif' >CNT</text>
<path d="M477.83 292.75 L484.26 289.18 L484.26 296.32 Z" fill="#d4a017"/>
<text transform="translate(489.5 295.35) scale(1 1.0)" font-size="7.2" font-weight="bold" text-anchor="start" fill="#000" font-family='"Liberation Sans", sans-serif' >IRMOF-3</text>
<path d="M484.97 301.88 L478.54 298.31 L478.54 305.45 Z" fill="#1ec8d8"/>
<text transform="translate(489.5 304.48) scale(1 1.0)" font-size="7.2" font-weight="bold" text-anchor="start" fill="#000" font-family='"Liberation Sans", sans-serif' >IRMOF-3-AM6</text>
<path d="M484.31 312.69 L481.40 314.37 L478.49 312.69 L478.49 309.33 L481.40 307.65 L484.31 309.33 Z" fill="#7a4a4a"/>
<text transform="translate(489.5 313.61) scale(1 1.0)" font-size="7.2" font-weight="bold" text-anchor="start" fill="#000" font-family='"Liberation Sans", sans-serif' >MMOF</text>
<circle cx="481.40" cy="320.14" r="3.26" fill="#8f8f1a"/>
<text transform="translate(489.5 322.74) scale(1 1.0)" font-size="7.2" font-weight="bold" text-anchor="start" fill="#000" font-family='"Liberation Sans", sans-serif' >ZIF-8</text>
<path d="M481.40 325.70 L484.80 328.17 L483.50 332.16 L479.30 332.16 L478.00 328.17 Z" fill="#f5730f"/>
<text transform="translate(489.5 331.87) scale(1 1.0)" font-size="7.2" font-weight="bold" text-anchor="start" fill="#000" font-family='"Liberation Sans", sans-serif' >ZIF-8</text>
<path d="M481.40 334.20 L482.42 337.00 L485.39 337.10 L483.05 338.94 L483.87 341.80 L481.40 340.13 L478.93 341.80 L479.75 338.94 L477.41 337.10 L480.38 337.00 Z" fill="#111111"/>
<text transform="translate(489.5 341.0) scale(1 1.0)" font-size="7.2" font-weight="bold" text-anchor="start" fill="#000" font-family='"Liberation Sans", sans-serif' >This work</text>
<path d="M481.40 343.33 L482.42 346.13 L485.39 346.23 L483.05 348.07 L483.87 350.93 L481.40 349.26 L478.93 350.93 L479.75 348.07 L477.41 346.23 L480.38 346.13 Z" fill="#b83552"/>
<text transform="translate(489.5 350.13) scale(1 1.0)" font-size="7.2" font-weight="bold" text-anchor="start" fill="#000" font-family='"Liberation Sans", sans-serif' >This work</text>
<path d="M515.00 356.59 L518.81 363.45 L511.19 363.45 Z" fill="#2a73d6"/>
<path d="M551.60 368.69 L548.50 370.48 L545.40 368.69 L545.40 365.11 L548.50 363.32 L551.60 365.11 Z" fill="#7a4a4a"/>
<path d="M579.30 347.91 L583.11 341.05 L575.49 341.05 Z" fill="#2aa56a"/>
<circle cx="601.50" cy="357.00" r="3.47" fill="#8f8f1a"/>
<path d="M571.00 355.79 L574.62 358.42 L573.24 362.68 L568.76 362.68 L567.38 358.42 Z" fill="#f5730f"/>
<path d="M580.80 368.19 L584.61 372.00 L580.80 375.81 L576.99 372.00 Z" fill="#b57ce6"/>
<circle cx="611.10" cy="370.70" r="3.47" fill="#ee3b3b"/>
<path d="M631.29 378.50 L638.15 374.69 L638.15 382.31 Z" fill="#d4a017"/>
<path d="M634.81 382.40 L627.95 378.59 L627.95 386.21 Z" fill="#1ec8d8"/>
<rect x="639.38" y="369.78" width="6.05" height="6.05" fill="#111111"/>
<path d="M574.90 323.80 L575.92 326.60 L578.89 326.70 L576.55 328.54 L577.37 331.40 L574.90 329.73 L572.43 331.40 L573.25 328.54 L570.91 326.70 L573.88 326.60 Z" fill="#111111"/>
<text transform="translate(567.5 329.6) scale(1 1.0)" font-size="7.6" font-weight="bold" text-anchor="end" fill="#000" font-family='"Liberation Sans", sans-serif' >Zr-MOF</text>
<path d="M605.30 297.10 L606.32 299.90 L609.29 300.00 L606.95 301.84 L607.77 304.70 L605.30 303.03 L602.83 304.70 L603.65 301.84 L601.31 300.00 L604.28 299.90 Z" fill="#b83552"/>
<path d="M602.20 307.90 L603.22 310.70 L606.19 310.80 L603.85 312.64 L604.67 315.50 L602.20 313.83 L599.73 315.50 L600.55 312.64 L598.21 310.80 L601.18 310.70 Z" fill="#b83552"/>
<path d="M621.40 308.80 L622.42 311.60 L625.39 311.70 L623.05 313.54 L623.87 316.40 L621.40 314.73 L618.93 316.40 L619.75 313.54 L617.41 311.70 L620.38 311.60 Z" fill="#b83552"/>
<ellipse cx="612.4" cy="307.8" rx="20.2" ry="14.2" fill="none" stroke="#b03050" stroke-width="1.6"/>
<path d="M578.3 333.7 Q598 333.5 615 330.8" fill="none" stroke="#b53048" stroke-width="1.7"/>
<path d="M613.3 331.2 L619.8 324.8 L620.3 332.0 Z" fill="#b53048"/>
<text transform="translate(558 301.2) scale(1 1.0)" font-size="9.6" font-weight="bold" text-anchor="middle" fill="#000" font-family='"Liberation Sans", sans-serif' >1991</text>
<text transform="translate(597.2 279) scale(1 1.0)" font-size="9.8" font-weight="bold" text-anchor="middle" fill="#000" font-family='"Liberation Sans", sans-serif' >2008</text>
<text transform="translate(635.2 287.7) scale(1 1.0)" font-size="7.9" font-weight="bold" text-anchor="middle" fill="#000" font-family='"Liberation Sans", sans-serif' >Oriented</text>
<text transform="translate(636.3 297.7) scale(1 1.0)" font-size="7.9" font-weight="bold" text-anchor="middle" fill="#000" font-family='"Liberation Sans", sans-serif' >Zr-MOF</text>
<rect x="473.3" y="237.5" width="186.7" height="150.10000000000002" fill="none" stroke="#000" stroke-width="1.35"/>
</svg>
</body></html>
